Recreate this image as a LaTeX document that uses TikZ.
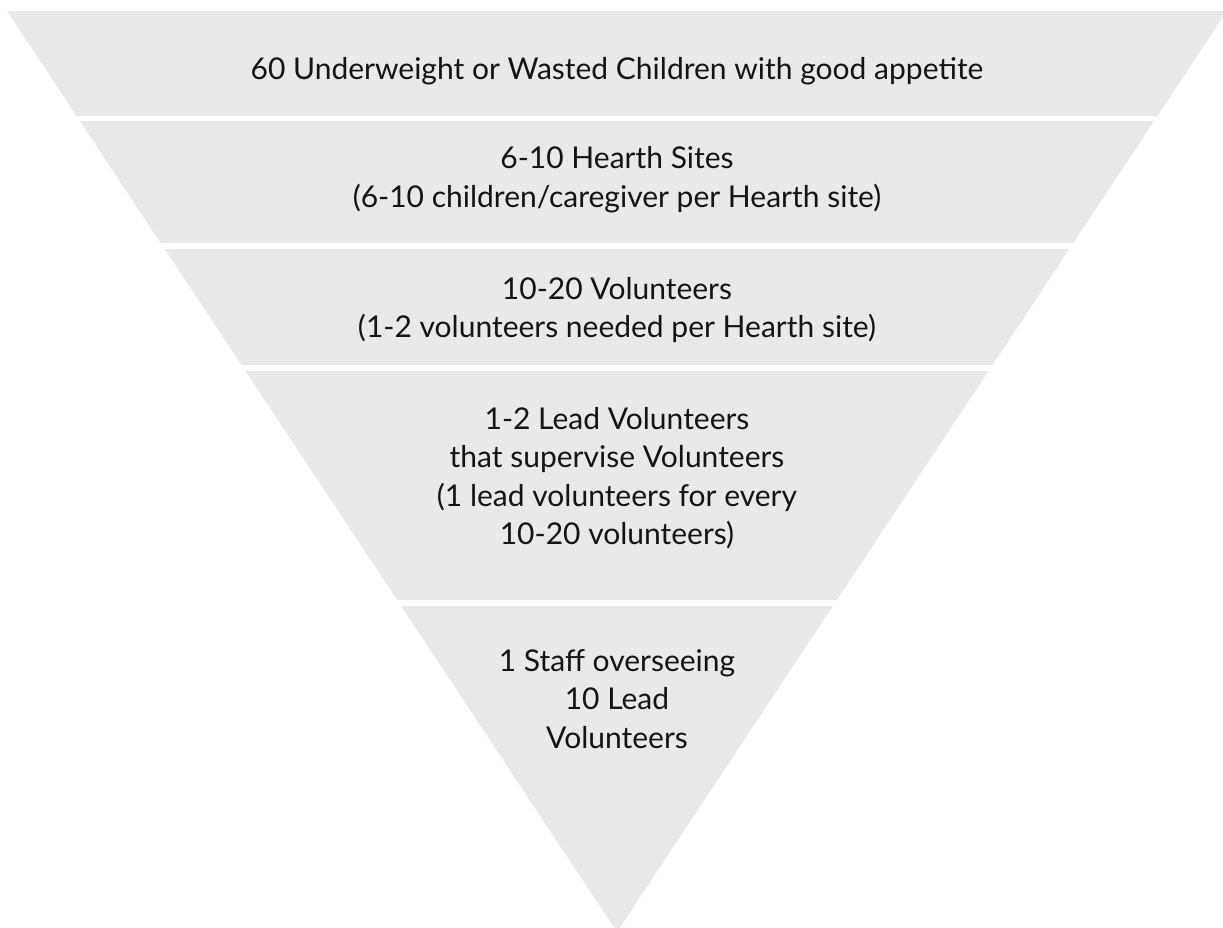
\documentclass[tikz,border=0pt]{standalone}
\usepackage{fontspec}
\setmainfont{Lato}
\begin{document}
\begin{tikzpicture}[x=1pt,y=-1pt,
  band/.style={fill=bandgray,draw=none},
  label/.style={align=center,font=\fontsize{30}{38.5}\selectfont,text=black!92,inner sep=0pt,anchor=center}]
\definecolor{bandgray}{HTML}{E9E9E9}
\useasboundingbox (0,0) rectangle (1223,927);
% inverted triangle, cut into horizontal bands
\begin{scope}
  \clip (7,11) -- (1227,11) -- (617,932) -- cycle;
  \fill[band] (0,11)    rectangle (1240,115.7);
  \fill[band] (0,121.3) rectangle (1240,242.7);
  \fill[band] (0,248.5) rectangle (1240,365);
  \fill[band] (0,370.7) rectangle (1240,600);
  \fill[band] (0,606)   rectangle (1240,940);
\end{scope}
\node[label] (children) at (617,71) {60 Underweight or Wasted Children with good appetite};
\node[label] (sites) at (617,179.5) {6-10 Hearth Sites\\(6-10 children/caregiver per Hearth site)};
\node[label] (volunteers) at (617,310) {10-20 Volunteers\\(1-2 volunteers needed per Hearth site)};
\node[label] (leads) at (617,478) {1-2 Lead Volunteers\\that supervise Volunteers\\(1 lead volunteers for every\\10-20 volunteers)};
\node[label] (staff) at (617,699) {1 Staff overseeing\\10 Lead\\Volunteers};
\end{tikzpicture}
\end{document}
